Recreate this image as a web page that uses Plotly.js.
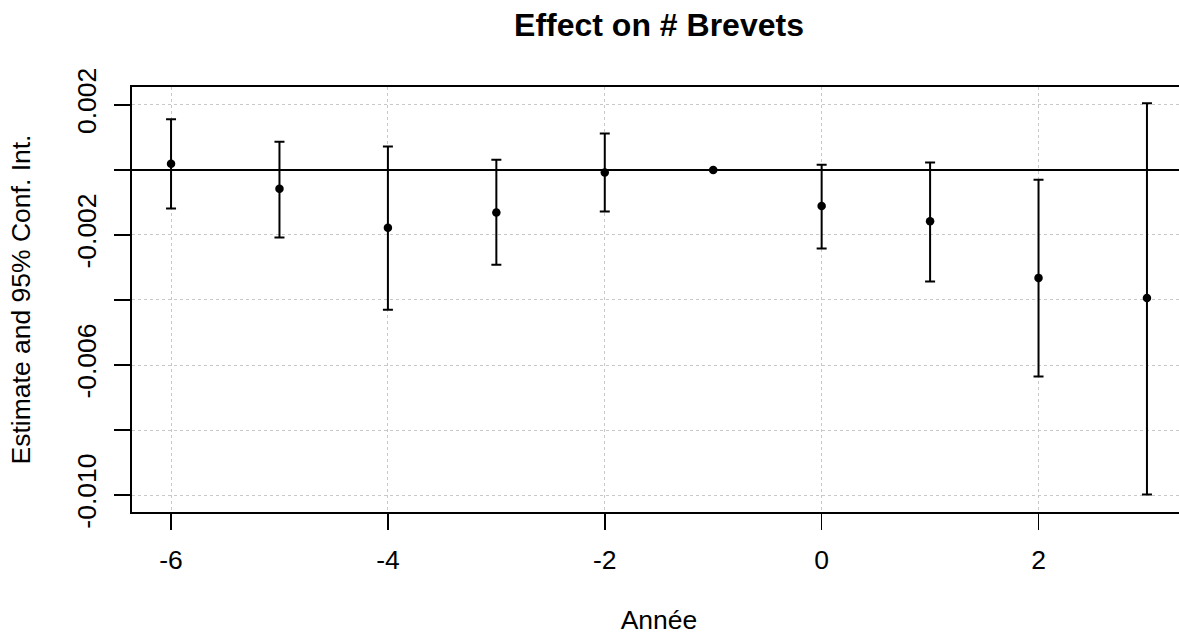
<!DOCTYPE html>
<html>
<head>
<meta charset="utf-8">
<script src="https://cdn.plot.ly/plotly-3.0.1.min.js"></script>
<style>
html, body { margin: 0; padding: 0; overflow: hidden; background: #fff; }
#chart { width: 1200px; height: 635px; }
</style>
</head>
<body>
<div id="chart"></div>
<script>
// Data
var years    = [-6, -5, -4, -3, -2, -1, 0, 1, 2, 3];
var estimate = [0.00019, -0.00058, -0.00178, -0.00131, -0.00008, 0, -0.00111, -0.00158, -0.00332, -0.00394];
var ciLow    = [-0.00119, -0.00208, -0.00430, -0.00292, -0.00128, null, -0.00242, -0.00343, -0.00635, -0.00998];
var ciHigh   = [0.00156, 0.00087, 0.00072, 0.00031, 0.00112, null, 0.00016, 0.00023, -0.00030, 0.00205];

var xTickVals = [-6, -4, -2, 0, 2];
var xTickText = ['-6', '-4', '-2', '0', '2'];
var yTickVals = [0.002, 0, -0.002, -0.004, -0.006, -0.008, -0.010];
var yTickText = ['0.002', '', '-0.002', '', '-0.006', '', '-0.010'];

var titleText = 'Effect on # Brevets';
var xTitle = 'Année';
var yTitle = 'Estimate and 95% Conf. Int.';

var errPlus = estimate.map(function (e, i) { return ciHigh[i] === null ? null : ciHigh[i] - e; });
var errMinus = estimate.map(function (e, i) { return ciLow[i] === null ? null : e - ciLow[i]; });

var FONT = 'Liberation Sans, Arial, Helvetica, sans-serif';
var AXFS = 26.5;

var trace = {
  type: 'scatter',
  mode: 'markers',
  x: years,
  y: estimate,
  marker: { color: '#000', size: 8.5 },
  error_y: {
    type: 'data',
    symmetric: false,
    array: errPlus,
    arrayminus: errMinus,
    color: '#000',
    thickness: 2,
    width: 5
  },
  showlegend: false,
  hoverinfo: 'x+y'
};

var layout = {
  width: 1200,
  height: 635,
  margin: { l: 132, r: 14, t: 87, b: 123, pad: 0 },
  paper_bgcolor: '#fff',
  plot_bgcolor: '#fff',
  font: { family: FONT, size: AXFS, color: '#000' },
  title: {
    text: titleText,
    font: { family: FONT, size: 32, color: '#000', weight: 'bold' },
    x: 0.5, xref: 'paper', xanchor: 'center',
    y: 1 - 25 / 635, yref: 'container', yanchor: 'middle'
  },
  xaxis: {
    range: [-6.36, 3.36],
    tickmode: 'array',
    tickvals: xTickVals,
    ticktext: xTickText,
    ticks: 'outside', ticklen: 16, tickwidth: 1.5, tickcolor: '#000',
    ticklabelstandoff: 7,
    showline: true, linecolor: '#000', linewidth: 2, mirror: true,
    showgrid: true, gridcolor: '#c8c8c8', gridwidth: 1, griddash: 'dot',
    zeroline: false,
    tickfont: { family: FONT, size: AXFS, color: '#000' },
    title: { text: xTitle, font: { family: FONT, size: AXFS, color: '#000' }, standoff: 38 }
  },
  yaxis: {
    range: [-0.01052, 0.00255],
    tickmode: 'array',
    tickvals: yTickVals,
    ticktext: yTickText,
    tickangle: -90,
    ticks: 'outside', ticklen: 16, tickwidth: 1.5, tickcolor: '#000',
    ticklabelstandoff: 7,
    showline: true, linecolor: '#000', linewidth: 2, mirror: false,
    showgrid: true, gridcolor: '#c8c8c8', gridwidth: 1, griddash: 'dot',
    zeroline: true, zerolinecolor: '#000', zerolinewidth: 2,
    tickfont: { family: FONT, size: AXFS, color: '#000' },
    title: { text: yTitle, font: { family: FONT, size: AXFS, color: '#000' }, standoff: 34 }
  }
};

Plotly.newPlot('chart', [trace], layout, { displayModeBar: false, staticPlot: true });
</script>
</body>
</html>
